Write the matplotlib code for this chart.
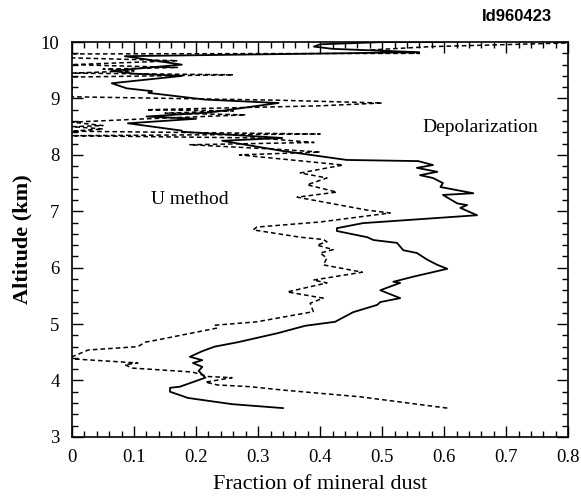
import matplotlib
matplotlib.use('Agg')
import matplotlib.pyplot as plt
from matplotlib.ticker import MultipleLocator

plt.rcParams['font.family'] = ['Liberation Serif', 'DejaVu Serif']

# Depolarization profile (solid), bottom to top
depol_x = [0.34, 0.258, 0.187, 0.158, 0.158, 0.174, 0.215, 0.204, 0.21, 0.195, 0.21, 0.19,
           0.21, 0.23, 0.268, 0.332, 0.376, 0.424, 0.453, 0.492, 0.497, 0.529, 0.497, 0.529,
           0.518, 0.55, 0.605, 0.589, 0.573, 0.556, 0.534, 0.524, 0.486, 0.476, 0.427, 0.427,
           0.469, 0.653, 0.626, 0.637, 0.621, 0.598, 0.647, 0.594, 0.598, 0.582, 0.561, 0.589,
           0.556, 0.582, 0.558, 0.443, 0.339, 0.242, 0.339, 0.177, 0.177, 0.09, 0.20, 0.12,
           0.22, 0.333, 0.215, 0.123, 0.129, 0.088, 0.064, 0.177, 0.10, 0.064, 0.177, 0.085,
           0.56, 0.42, 0.39, 0.40, 0.50, 0.60]
depol_y = [3.51, 3.58, 3.69, 3.80, 3.87, 3.89, 4.05, 4.17, 4.24, 4.31, 4.36, 4.42,
           4.52, 4.60, 4.68, 4.84, 4.97, 5.04, 5.21, 5.34, 5.39, 5.46, 5.60, 5.73,
           5.75, 5.84, 5.98, 6.05, 6.14, 6.26, 6.31, 6.44, 6.49, 6.54, 6.65, 6.70,
           6.79, 6.93, 7.06, 7.11, 7.14, 7.29, 7.32, 7.43, 7.50, 7.59, 7.64, 7.70,
           7.77, 7.82, 7.89, 7.91, 8.07, 8.25, 8.30, 8.41, 8.43, 8.56, 8.64, 8.68,
           8.75, 8.92, 8.98, 9.10, 9.13, 9.18, 9.27, 9.40, 9.44, 9.49, 9.60, 9.75,
           9.82, 9.88, 9.92, 9.96, 10.0, 10.0]

# U method profile (dashed), bottom to top
umeth_x = [0.605, 0.465, 0.34, 0.287, 0.235, 0.215, 0.258, 0.219, 0.194, 0.097, 0.085, 0.106,
           0.005, 0.0, 0.026, 0.106, 0.118, 0.129, 0.234, 0.231, 0.298, 0.389, 0.384, 0.405,
           0.347, 0.411, 0.389, 0.468, 0.405, 0.411, 0.40, 0.421, 0.395, 0.411, 0.405, 0.368,
           0.292, 0.298, 0.40, 0.513, 0.476, 0.432, 0.363, 0.427, 0.379, 0.411, 0.368, 0.437,
           0.27, 0.40, 0.33, 0.19, 0.39, 0.30, 0.0, 0.40, 0.0, 0.05, 0.0, 0.05,
           0.0, 0.12, 0.28, 0.15, 0.26, 0.12, 0.40, 0.50, 0.33, 0.0, 0.0, 0.26,
           0.0, 0.10, 0.05, 0.17, 0.0, 0.17, 0.0, 0.0, 0.56, 0.48, 0.58, 0.85]
umeth_y = [3.51, 3.71, 3.83, 3.89, 3.92, 3.97, 4.05, 4.07, 4.15, 4.22, 4.28, 4.31,
           4.38, 4.42, 4.54, 4.60, 4.68, 4.70, 4.93, 4.98, 5.04, 5.22, 5.37, 5.46,
           5.57, 5.73, 5.78, 5.92, 6.05, 6.17, 6.26, 6.32, 6.40, 6.46, 6.50, 6.54,
           6.67, 6.72, 6.81, 6.97, 7.02, 7.11, 7.25, 7.34, 7.47, 7.59, 7.68, 7.82,
           8.00, 8.05, 8.10, 8.18, 8.22, 8.30, 8.34, 8.37, 8.42, 8.46, 8.50, 8.52,
           8.58, 8.64, 8.71, 8.74, 8.78, 8.80, 8.87, 8.92, 8.97, 9.03, 9.38, 9.42,
           9.45, 9.49, 9.52, 9.55, 9.60, 9.67, 9.72, 9.79, 9.80, 9.86, 9.92, 10.0]

x_ticks = [0, 0.1, 0.2, 0.3, 0.4, 0.5, 0.6, 0.7, 0.8]
x_labels = ['0', '0.1', '0.2', '0.3', '0.4', '0.5', '0.6', '0.7', '0.8']
y_ticks = [3, 4, 5, 6, 7, 8, 9, 10]

fig = plt.figure(figsize=(5.81, 5.01), dpi=100)
ax = fig.add_axes([0.124, 0.128, 0.854, 0.788])

ax.plot(depol_x, depol_y, color='black', lw=1.3)
ax.plot(umeth_x, umeth_y, color='black', lw=1.1, linestyle=(0, (3, 2)))

ax.set_xlim(0, 0.8)
ax.set_ylim(3, 10)
ax.set_xticks(x_ticks)
ax.set_xticklabels(x_labels)
ax.set_yticks(y_ticks)
ax.xaxis.set_minor_locator(MultipleLocator(0.02))
ax.yaxis.set_minor_locator(MultipleLocator(0.2))
ax.tick_params(which='both', direction='in', top=True, right=True, labelsize=13.5, width=1)
ax.tick_params(which='major', length=8, pad=9)
ax.tick_params(which='minor', length=4)
for s in ax.spines.values():
    s.set_linewidth(1.2)

ax.text(0.19, 7.2, 'U method', fontsize=14, ha='center', va='center')
ax.text(0.658, 8.49, 'Depolarization', fontsize=14, ha='center', va='center')

ax.set_xlabel('Fraction of mineral dust', fontsize=16, labelpad=6)
ax.set_ylabel('Altitude (km)', fontsize=16, fontweight='bold', labelpad=6)

fig.text(0.95, 0.968, 'Id960423', fontsize=12, fontweight='bold', ha='right', va='center',
         family=['Liberation Sans Narrow', 'Liberation Sans', 'DejaVu Sans'])

fig.savefig('out.png')
